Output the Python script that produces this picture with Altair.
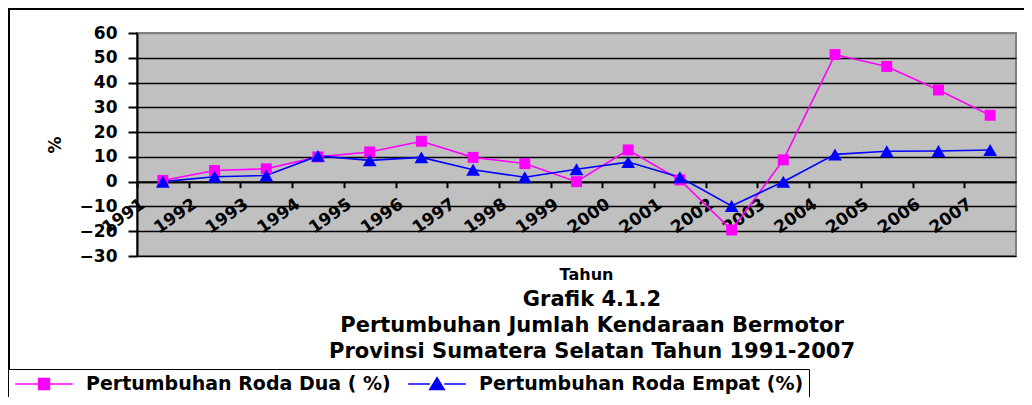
import altair as alt
import pandas as pd

years = list(range(1991, 2008))
roda_dua = [0.5, 4.5, 5.2, 10.0, 12.0, 16.3, 9.8, 7.3, 0.0, 12.8, 0.7, -19.5, 8.8, 51.3, 46.5, 37.0, 26.8]
roda_empat = [0.0, 2.0, 2.5, 10.4, 8.6, 9.8, 4.8, 1.8, 5.0, 7.9, 1.8, -9.8, 0.0, 11.0, 12.3, 12.4, 12.8]
series_names = ["Pertumbuhan Roda Dua ( %)", "Pertumbuhan Roda Empat (%)"]
series_colors = ["#FF00FF", "#0000FF"]
y_title = "%"
x_title = "Tahun"
chart_title = ["Grafik 4.1.2",
               "Pertumbuhan Jumlah Kendaraan Bermotor",
               "Provinsi Sumatera Selatan Tahun 1991-2007"]

rows = []
for name, vals in zip(series_names, [roda_dua, roda_empat]):
    for yr, v in zip(years, vals):
        rows.append({"Tahun": yr, "nilai": v, "seri": name})
df = pd.DataFrame(rows)

W, H = 879, 223
FONT = "DejaVu Sans"

xscale = alt.Scale(domain=[1990.5, 2007.5], nice=False, zero=False)
yscale = alt.Scale(domain=[-30, 60], nice=False)
tick_vals = [y - 0.5 for y in years]

x_axis = alt.Axis(values=tick_vals, labelExpr="format(datum.value + 0.5, 'd')",
                  offset=-(H * 30 / 90), grid=False, domainColor="black", domainWidth=2,
                  tickColor="black", tickWidth=2, tickSize=6, labelAngle=-35,
                  labelAlign="right", labelBaseline="top", labelPadding=8, labelOffset=1,
                  labelFont=FONT, labelFontWeight="bold", labelFontSize=17, labelColor="black",
                  title=x_title, titleFont=FONT, titleFontWeight="bold", titleFontSize=16,
                  titleColor="black", titleX=449, titleY=85, titleBaseline="top",
                  titleAnchor="start", titleAlign="center", labelFlush=False, labelOverlap=False)
y_axis = alt.Axis(values=list(range(-30, 61, 10)), grid=True,
                  gridColor={"condition": {"test": "datum.value === 60", "value": "#808080"},
                             "value": "black"},
                  gridWidth=1.3, domainColor="black", domainWidth=2, tickColor="black",
                  tickWidth=2, tickSize=9, labelPadding=11, labelFont=FONT,
                  labelFontWeight="bold", labelFontSize=17, labelColor="black",
                  title=y_title, titleFont=FONT, titleFontWeight="bold", titleFontSize=17,
                  titleColor="black", titleAngle=-90, titleX=-82, titleBaseline="middle",
                  labelFlush=False)

X = alt.X("Tahun:Q", scale=xscale, axis=x_axis)
Y = alt.Y("nilai:Q", scale=yscale, axis=y_axis)

base = alt.Chart(df)

layers = []
for name, col in zip(series_names, series_colors):
    sub = base.transform_filter(alt.datum.seri == name)
    layers.append(sub.mark_line(color=col, strokeWidth=1.6).encode(x=X, y=Y))
for name, col, shp, sz in zip(series_names, series_colors, ["square", "triangle-up"], [120, 190]):
    sub = base.transform_filter(alt.datum.seri == name)
    layers.append(sub.mark_point(shape=shp, filled=True, color=col, size=sz, opacity=1).encode(x=X, y=Y))

# legend symbols: line with marker, path drawn larger than the unit box
sq = "M-3.2,0L-0.6,0M0.6,0L3.2,0M-0.6,-0.6L0.6,-0.6L0.6,0.6L-0.6,0.6Z"
tri = "M-3.2,0L-0.8,0M0.8,0L3.2,0M0,-0.7L0.8,0.6L-0.8,0.6Z"
legend = alt.Legend(title=None, orient="none", legendX=-129, legendY=336, direction="horizontal",
                    strokeColor="black", padding=5, symbolSize=324, symbolStrokeWidth=1.5,
                    symbolOpacity=1, symbolOffset=21, labelFont=FONT, labelFontWeight="bold",
                    labelFontSize=19, labelColor="black", labelOffset=32, columnPadding=14,
                    fillColor="white", labelLimit=0)
cscale = alt.Scale(domain=series_names, range=series_colors)
leg_layer = base.transform_filter("false").mark_point(filled=True, strokeWidth=1.5, opacity=1).encode(
    x=X, y=Y,
    fill=alt.Fill("seri:N", scale=cscale, legend=legend),
    stroke=alt.Stroke("seri:N", scale=cscale, legend=legend),
    shape=alt.Shape("seri:N", scale=alt.Scale(domain=series_names, range=[sq, tri]), legend=legend),
)

frame = alt.Chart(alt.Data(values=[{"a": 1}])).mark_rect(fillOpacity=0, stroke="black", strokeWidth=2).encode(
    x=alt.value(-128), x2=alt.value(W + 40), y=alt.value(-24), y2=alt.value(H + 300))

title_layer = alt.Chart(alt.Data(values=[{"a": 1}])).mark_text(
    font=FONT, fontWeight="bold", fontSize=21, lineHeight=26, lineBreak="\n",
    baseline="top", align="center", color="black").encode(
    text=alt.value("\n".join(chart_title)), x=alt.value(455), y=alt.value(256))

chart = alt.layer(frame, *layers, leg_layer, title_layer).properties(
    width=W, height=H, background="white",
    autosize=alt.AutoSizeParams(type="none"),
    padding={"left": 129, "top": 25, "right": 8, "bottom": 141},
).configure_view(fill="#C0C0C0", stroke="#808080", strokeWidth=2)

chart.save("out.html", embed_options={"renderer": "svg", "actions": False})
